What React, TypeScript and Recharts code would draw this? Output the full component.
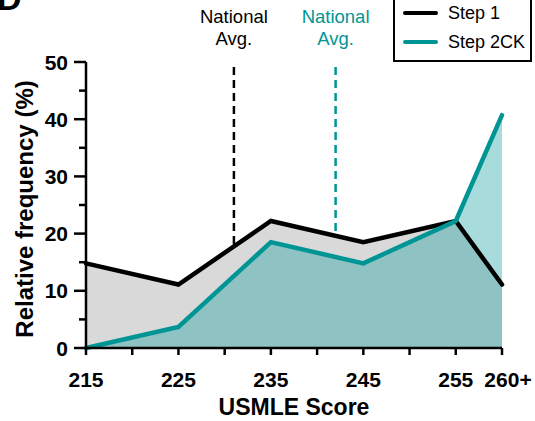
import React from 'react'
import {
  ComposedChart,
  Area,
  Line,
  XAxis,
  YAxis,
  ReferenceLine,
  Legend,
} from 'recharts'

const scores = [215, 225, 235, 245, 255, 260]
const step1 = [14.8, 11.1, 22.2, 18.5, 22.2, 11.1]
const step2ck = [0, 3.7, 18.5, 14.8, 22.2, 40.7]

const xTicks = [215, 220, 225, 230, 235, 240, 245, 250, 255, 260]
const xLabels: Record<number, string> = { 215: '215', 225: '225', 235: '235', 245: '245', 255: '255', 260: '260+' }
const yTicks = [0, 5, 10, 15, 20, 25, 30, 35, 40, 45, 50]

const step1Avg = 231
const step2Avg = 242

const BLACK = '#000000'
const TEAL = '#009595'
const FONT = '"Liberation Sans", Arial, Helvetica, sans-serif'

const data = scores.map((s, i) => ({ score: s, step1: step1[i], step2ck: step2ck[i] }))

const XTick = (props: any) => {
  const { x, y, payload } = props
  const label = xLabels[payload.value]
  if (!label) return null
  return (
    <text
      x={x + (payload.value === 260 ? 6 : 0)}
      y={y + 32}
      textAnchor="middle"
      fontSize={21}
      fontWeight="bold"
      fontFamily={FONT}
      fill={BLACK}
    >
      {label}
    </text>
  )
}

const YTick = (props: any) => {
  const { x, y, payload } = props
  const major = payload.value % 10 === 0
  return (
    <g>
      <line x1={x} x2={x - (major ? 12 : 7)} y1={y} y2={y} stroke={BLACK} strokeWidth={2.5} />
      {major && (
        <text x={x - 18} y={y + 7.5} textAnchor="end" fontSize={21} fontWeight="bold" fontFamily={FONT} fill={BLACK}>
          {payload.value}
        </text>
      )}
    </g>
  )
}

const avgLabel = (color: string) => (props: any) => {
  const { viewBox } = props
  const x = viewBox.x
  const y = viewBox.y
  return (
    <g fontFamily={FONT} fontSize={18.5} fill={color} textAnchor="middle">
      <text x={x} y={y - 39}>National</text>
      <text x={x} y={y - 17}>Avg.</text>
    </g>
  )
}

const LegendBox = () => (
  <div
    style={{
      border: '2px solid #000',
      height: 72,
      boxSizing: 'border-box',
      background: '#fff',
      fontFamily: FONT,
      fontSize: 18,
      position: 'relative',
    }}
  >
    {[
      { name: 'Step 1', color: BLACK, top: 21 },
      { name: 'Step 2CK', color: TEAL, top: 50 },
    ].map((it) => (
      <div key={it.name} style={{ position: 'absolute', left: 8, top: it.top - 11, height: 22, display: 'flex', alignItems: 'center', whiteSpace: 'nowrap' }}>
        <div style={{ width: 35, height: 4, borderRadius: 2, background: it.color }} />
        <span style={{ marginLeft: 10, color: '#000' }}>{it.name}</span>
      </div>
    ))}
  </div>
)

export default function App() {
  return (
    <div style={{ position: 'absolute', left: 0, top: 0, width: 535, height: 421, background: '#fff', overflow: 'hidden' }}>
      <ComposedChart width={535} height={421} data={data} margin={{ top: 62, right: 33, bottom: 0, left: 0 }}>
        <text x={-3} y={10} fontSize={34} fontWeight="bold" fontFamily={FONT} fill={BLACK}>D</text>
        <XAxis
          dataKey="score"
          type="number"
          domain={[215, 260]}
          ticks={xTicks}
          height={73}
          tickSize={7}
          tickMargin={0}
          tick={<XTick />}
          axisLine={{ stroke: BLACK, strokeWidth: 2.5 }}
          tickLine={{ stroke: BLACK, strokeWidth: 2.5 }}
          label={{
            content: (p: any) => (
              <text
                x={p.viewBox.x + p.viewBox.width / 2}
                y={p.viewBox.y + 67}
                textAnchor="middle"
                fontSize={23}
                fontWeight="bold"
                fontFamily={FONT}
                fill={BLACK}
              >
                USMLE Score
              </text>
            ),
          }}
        />
        <YAxis
          type="number"
          domain={[0, 50]}
          ticks={yTicks}
          width={86}
          tickSize={0}
          tickMargin={0}
          tickLine={false}
          tick={<YTick />}
          axisLine={{ stroke: BLACK, strokeWidth: 2.5 }}
          label={{
            content: (p: any) => {
              const cy = p.viewBox.y + p.viewBox.height / 2 + 4
              return (
                <text
                  x={33}
                  y={cy}
                  transform={`rotate(-90, 33, ${cy})`}
                  textAnchor="middle"
                  fontSize={24}
                  fontWeight="bold"
                  fontFamily={FONT}
                  fill={BLACK}
                >
                  Relative frequency (%)
                </text>
              )
            },
          }}
        />
        <ReferenceLine x={step1Avg} stroke={BLACK} strokeWidth={2.5} strokeDasharray="8 5" zIndex={-10} label={avgLabel(BLACK)} />
        <ReferenceLine x={step2Avg} stroke={TEAL} strokeWidth={2.5} strokeDasharray="8 5" zIndex={-10} label={avgLabel(TEAL)} />
        <Area dataKey="step1" type="linear" fill="#d9d9d9" fillOpacity={1} stroke="none" isAnimationActive={false} />
        <Area dataKey="step2ck" type="linear" fill="#009898" fillOpacity={0.34} stroke="none" isAnimationActive={false} />
        <Line dataKey="step1" type="linear" stroke={BLACK} strokeWidth={4.5} dot={false} strokeLinecap="round" isAnimationActive={false} />
        <Line dataKey="step2ck" type="linear" stroke={TEAL} strokeWidth={4.5} dot={false} strokeLinecap="round" isAnimationActive={false} />
        <Legend
          layout="vertical"
          align="center"
          verticalAlign="middle"
          content={<LegendBox />}
          wrapperStyle={{ position: 'absolute', left: 393, top: -10, width: 139, height: 72 }}
        />
      </ComposedChart>
    </div>
  )
}
